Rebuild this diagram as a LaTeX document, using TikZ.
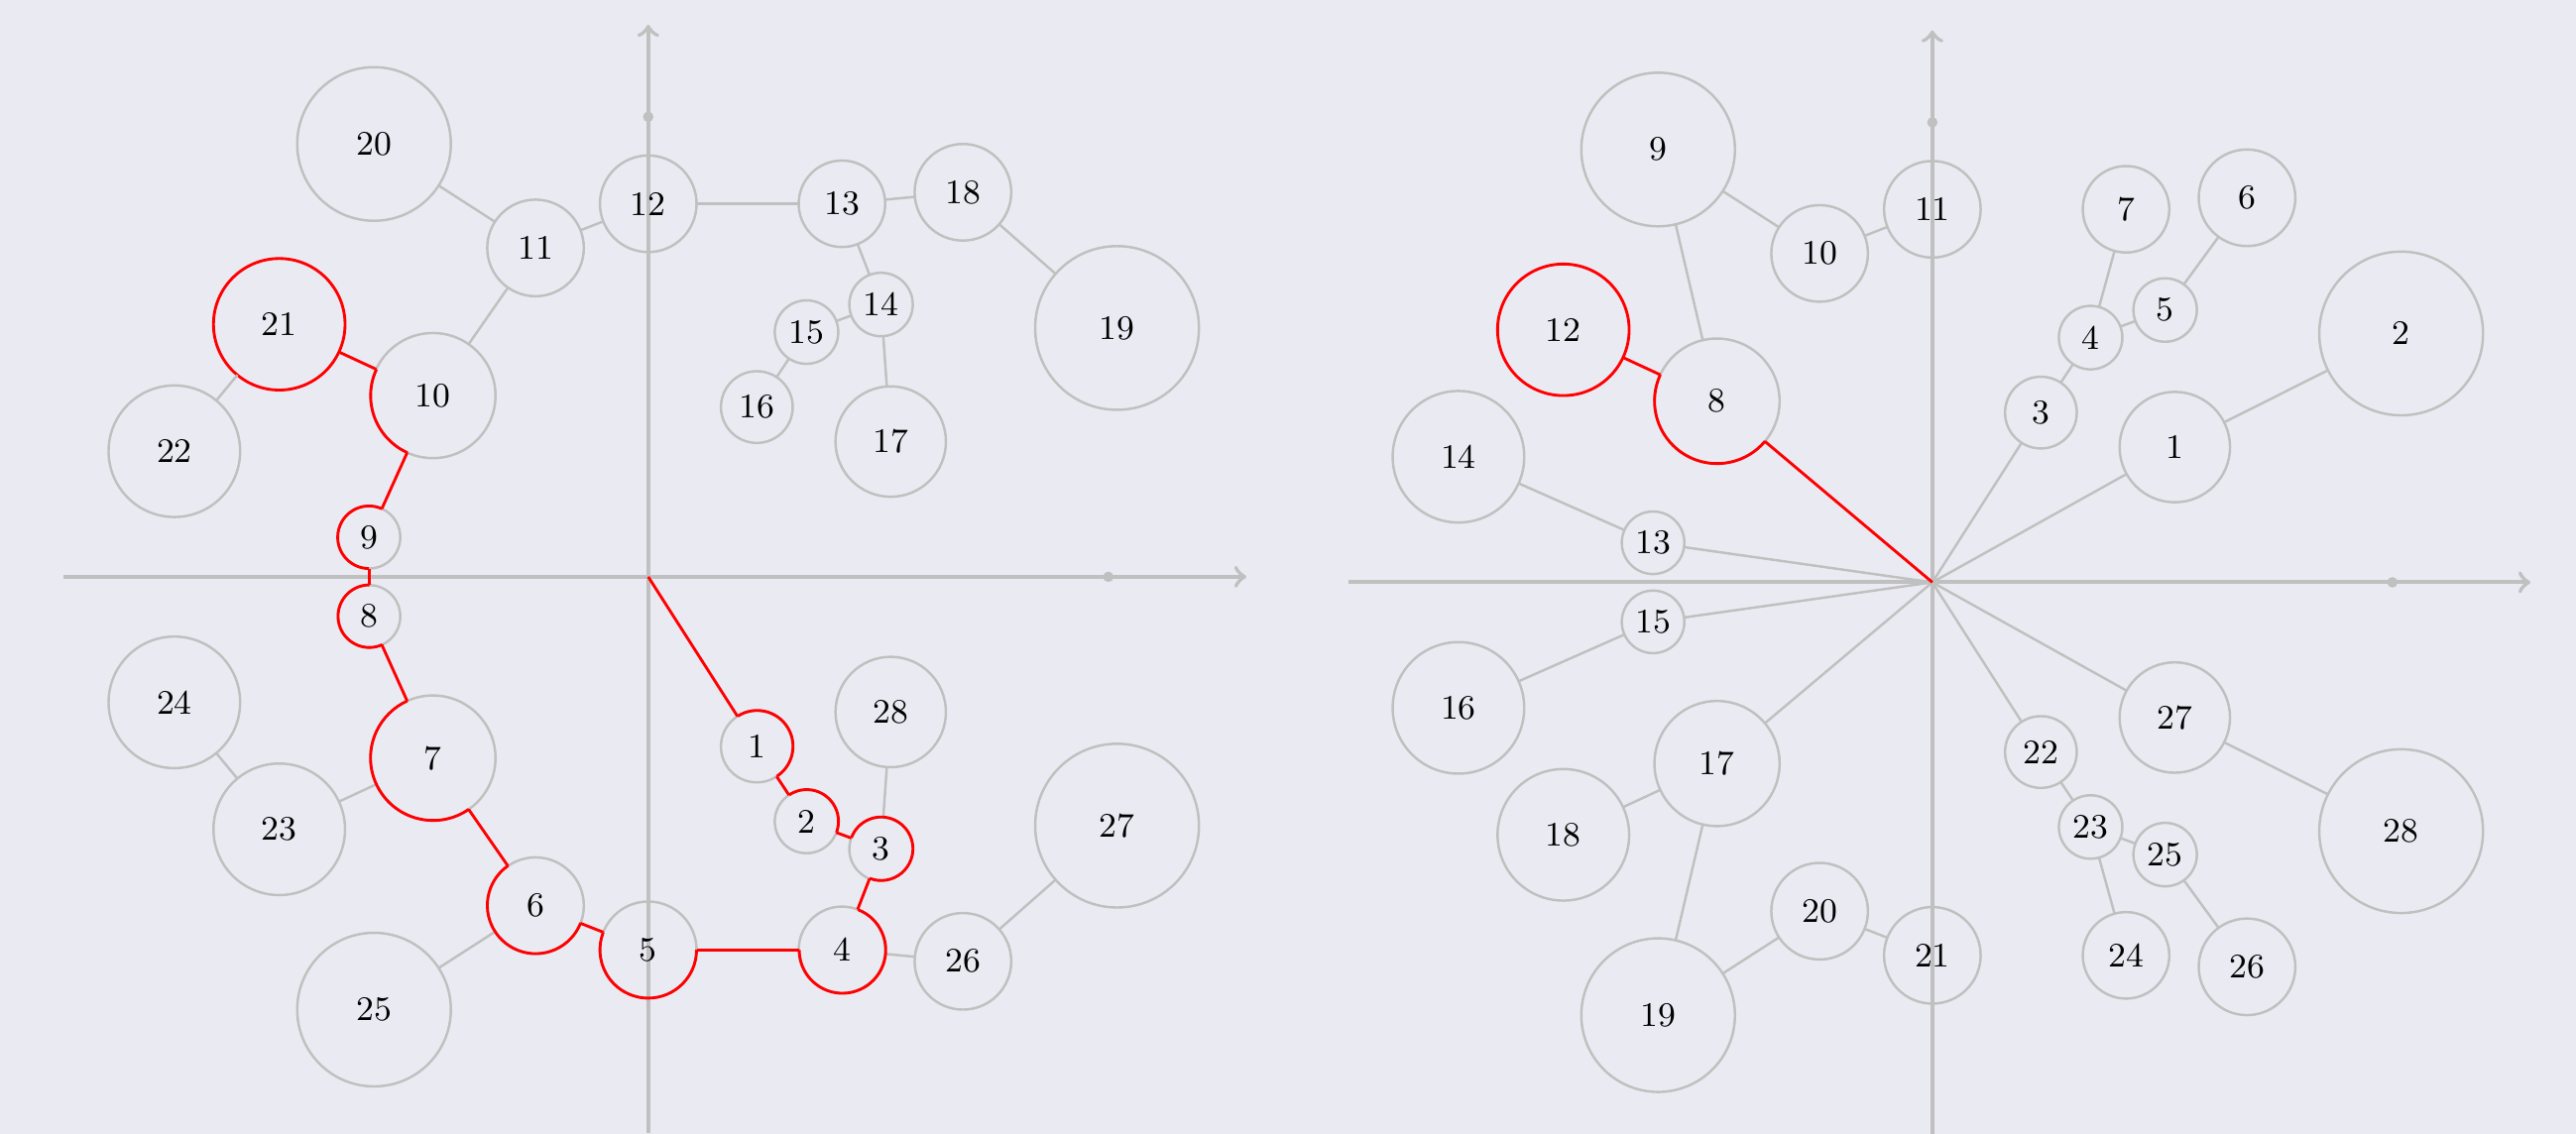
\documentclass[tikz,border=0pt]{standalone}
\usetikzlibrary{calc}
\definecolor{bgcol}{HTML}{EAEAF2}
\definecolor{ballgray}{HTML}{C0C0C0}
\tikzset{
  ball/.style={circle,draw=ballgray,line width=0.6pt,inner sep=0pt,outer sep=0pt,
    font=\fontsize{8.5}{10}\selectfont},
  link/.style={draw=ballgray,line width=0.6pt},
  hot/.style={draw=red,line width=0.7pt},
  axisline/.style={draw=ballgray,line width=1pt,->},
}
% red arc round node #1, clockwise from the side of #2 to the side of #3
\newcommand{\hotarc}[3]{%
  \draw[hot] let \p1=($(#2.center)-(#1.center)$), \p2=($(#3.center)-(#1.center)$),
    \p3=($(#1.east)-(#1.center)$), \n1={atan2(\y1,\x1)}, \n2={atan2(\y2,\x2)},
    \n3={\n1-mod(\n1-\n2+720,360)}
    in (#1.\n1) arc[start angle=\n1,end angle=\n3,radius=\x3];%
}
\newcommand{\axes}{%
  \draw[axisline] (-1.27,0)--(1.30,0);%
  \draw[axisline] (0,-1.21)--(0,1.20);%
  \fill[ballgray] (1,0) circle (1.3pt) (0,1) circle (1.3pt);%
}

\begin{document}
\begin{tikzpicture}[x=4cm,y=4cm]
  \fill[bgcol] (-1.409,-1.211) rectangle (4.190,1.254);
  \useasboundingbox (-1.409,-1.211) rectangle (4.190,1.254);

  % left: the path out to 21
  \begin{scope}
    \axes
    \coordinate (lO) at (0,0);
    \foreach \k/\px/\py/\d in {1/0.236/-0.369/0.624, 2/0.344/-0.532/0.552,
        3/0.506/-0.592/0.552, 4/0.421/-0.811/0.752, 5/0/-0.811/0.84,
        6/-0.245/-0.715/0.84, 7/-0.468/-0.394/1.088, 8/-0.607/-0.086/0.544,
        9/-0.607/0.086/0.544, 10/-0.468/0.394/1.088, 11/-0.245/0.715/0.84,
        12/0/0.811/0.84, 13/0.421/0.811/0.752, 14/0.506/0.592/0.552,
        15/0.344/0.532/0.552, 16/0.236/0.369/0.624, 17/0.527/0.294/0.96,
        18/0.684/0.836/0.84, 19/1.019/0.541/1.424, 20/-0.596/0.941/1.336,
        22/-1.030/0.273/1.144, 23/-0.802/-0.549/1.144,
        24/-1.030/-0.273/1.144, 25/-0.596/-0.941/1.336, 26/0.684/-0.836/0.84,
        27/1.019/-0.541/1.424, 28/0.527/-0.294/0.96}
      \node[ball,minimum size=\d cm] (l\k) at (\px,\py) {\k};
    \node[ball,draw=red,line width=0.7pt,minimum size=1.144cm] (l21) at (-0.802,0.549) {21};
    \foreach \s/\t in {10/11, 11/12, 11/20, 12/13, 13/18, 13/14, 14/15, 14/17,
        15/16, 18/19, 21/22, 7/23, 23/24, 6/25, 4/26, 26/27, 3/28}
      \draw[link] (l\s) -- (l\t);
    \foreach \s/\t in {O/1, 1/2, 2/3, 3/4, 4/5, 5/6, 6/7, 7/8, 8/9, 9/10, 10/21}
      \draw[hot] (l\s) -- (l\t);
    \foreach \prev/\cur/\nxt in {O/1/2, 1/2/3, 2/3/4, 3/4/5, 4/5/6, 5/6/7,
        6/7/8, 7/8/9, 8/9/10, 9/10/21}
      {\hotarc{l\cur}{l\prev}{l\nxt}}
  \end{scope}

  % right: the path out to 12
  \begin{scope}[shift={(2.791,-0.012)}]
    \axes
    \coordinate (rO) at (0,0);
    \foreach \k/\px/\py/\d in {1/0.527/0.294/0.96, 2/1.019/0.541/1.424,
        3/0.236/0.369/0.624, 4/0.344/0.532/0.552, 5/0.506/0.592/0.552,
        6/0.684/0.836/0.84, 7/0.421/0.811/0.752, 8/-0.468/0.394/1.088,
        9/-0.596/0.941/1.336, 10/-0.245/0.715/0.84, 11/0/0.811/0.84,
        13/-0.607/0.086/0.544, 14/-1.030/0.273/1.144,
        15/-0.607/-0.086/0.544, 16/-1.030/-0.273/1.144, 17/-0.468/-0.394/1.088,
        18/-0.802/-0.549/1.144, 19/-0.596/-0.941/1.336, 20/-0.245/-0.715/0.84,
        21/0/-0.811/0.84, 22/0.236/-0.369/0.624, 23/0.344/-0.532/0.552,
        24/0.421/-0.811/0.752, 25/0.506/-0.592/0.552, 26/0.684/-0.836/0.84,
        27/0.527/-0.294/0.96, 28/1.019/-0.541/1.424}
      \node[ball,minimum size=\d cm] (r\k) at (\px,\py) {\k};
    \node[ball,draw=red,line width=0.7pt,minimum size=1.144cm] (r12) at (-0.802,0.549) {12};
    \foreach \s/\t in {O/1, O/3, O/13, O/15, O/17, O/22, O/27, 1/2, 3/4, 4/7,
        4/5, 5/6, 8/9, 9/10, 10/11, 13/14, 15/16, 17/18, 17/19, 19/20, 20/21,
        22/23, 23/24, 23/25, 25/26, 27/28}
      \draw[link] (r\s) -- (r\t);
    \draw[hot] (rO) -- (r8);
    \draw[hot] (r8) -- (r12);
    \hotarc{r8}{rO}{r12}
  \end{scope}
\end{tikzpicture}
\end{document}
